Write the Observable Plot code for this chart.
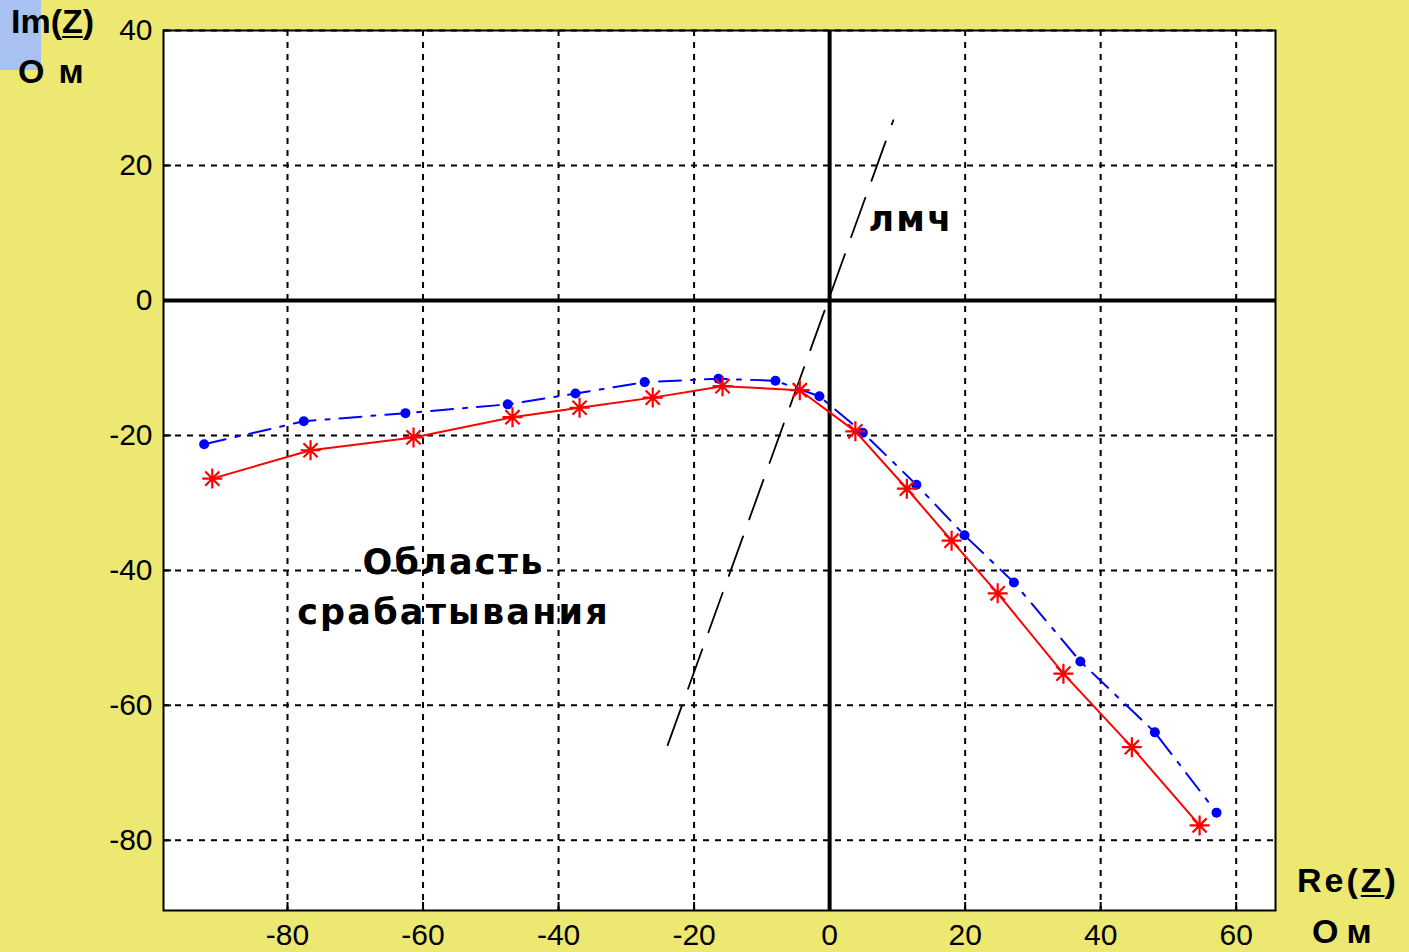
<!DOCTYPE html>
<html><head><meta charset="utf-8">
<script src="https://cdn.jsdelivr.net/npm/d3@7"></script>
<script src="https://cdn.jsdelivr.net/npm/@observablehq/plot@0.6"></script>
<style>
html,body{margin:0;padding:0;background:#ece872;width:1409px;height:952px;overflow:hidden;}
#wrap{position:relative;width:1409px;height:952px;}
#wrap svg{position:absolute;left:0;top:0;}
.lbl{position:absolute;font-family:"Liberation Sans",Arial,sans-serif;font-weight:bold;font-size:34px;line-height:1;color:#000;white-space:nowrap;}
.lbl u{text-decoration-thickness:2px;text-underline-offset:3px;}
#bluebox{position:absolute;left:0;top:0;width:41px;height:70px;background:#a9c1f1;}
</style></head><body>
<div id="wrap"><div id="bluebox"></div></div>
<script>
// Tick values
const xTicks = [-80, -60, -40, -20, 0, 20, 40, 60];
const yTicks = [-80, -60, -40, -20, 0, 20, 40];

// Red series (asterisks, solid)
const redRe = [-91.1, -76.6, -61.4, -46.8, -36.9, -26.1, -15.8, -4.4, 3.8, 11.4, 18.0, 24.8, 34.5, 44.6, 54.6];
const redIm = [-26.4, -22.2, -20.3, -17.3, -15.9, -14.4, -12.7, -13.3, -19.4, -27.9, -35.6, -43.4, -55.3, -66.2, -77.8];

// Blue series (dots, dash-dot)
const blueRe = [-92.3, -77.6, -62.6, -47.5, -37.5, -27.3, -16.4, -8.0, -1.5, 4.9, 12.8, 19.9, 27.2, 37.0, 48.0, 57.1];
const blueIm = [-21.3, -17.9, -16.7, -15.4, -13.8, -12.1, -11.6, -11.9, -14.2, -19.6, -27.3, -34.8, -41.8, -53.5, -64.0, -75.9];

// ЛМЧ line (dashed)
const lmchRe = [-23.9, 9.4];
const lmchIm = [-65.9, 26.7];

// Annotations
const noteText = ["лмч", "Область\nсрабатывания"];
const noteRe = [12.0, -55.5];
const noteIm = [12.6, -41.8];

const red = redRe.map((x, i) => ({x, y: redIm[i]}));
const blue = blueRe.map((x, i) => ({x, y: blueIm[i]}));
const lmch = lmchRe.map((x, i) => ({x, y: lmchIm[i]}));
const notes = noteText.map((t, i) => ({t, x: noteRe[i], y: noteIm[i]}));

const asterisk = {
  draw(ctx, size) {
    const r = Math.sqrt(size / Math.PI);
    const d = r * Math.SQRT1_2;
    ctx.moveTo(0, -r); ctx.lineTo(0, r);
    ctx.moveTo(-r, 0); ctx.lineTo(r, 0);
    ctx.moveTo(-d, -d); ctx.lineTo(d, d);
    ctx.moveTo(-d, d); ctx.lineTo(d, -d);
  }
};

const grid = {stroke: "black", strokeOpacity: 1, strokeWidth: 2, strokeDasharray: "6,6"};

const chart = Plot.plot({
  width: 1409, height: 952,
  marginLeft: 163, marginRight: 134, marginTop: 30, marginBottom: 42,
  x: {domain: [-98.3, 65.8]},
  y: {domain: [-90.4, 40]},
  style: {background: "transparent", fontFamily: "'Liberation Sans', Arial, sans-serif", fontSize: "30px", color: "black", overflow: "visible"},
  marks: [
    Plot.frame({fill: "white", stroke: null}),
    Plot.gridX(xTicks, grid),
    Plot.gridY(yTicks, grid),
    Plot.ruleX([0], {stroke: "black", strokeWidth: 4}),
    Plot.ruleY([0], {stroke: "black", strokeWidth: 4}),
    Plot.axisX(xTicks, {tickSize: 0, tickPadding: 13, tickFormat: d => String(d), label: null}),
    Plot.axisY(yTicks, {tickSize: 0, tickPadding: 11, tickFormat: d => String(d), label: null}),
    Plot.axisX(xTicks, {tickSize: -8, tickFormat: () => "", label: null, strokeWidth: 2}),
    Plot.axisY(yTicks, {tickSize: -8, tickFormat: () => "", label: null, strokeWidth: 2}),
    Plot.line(lmch, {x: "x", y: "y", stroke: "black", strokeWidth: 1.8, strokeDasharray: "42,18"}),
    Plot.line(blue, {x: "x", y: "y", stroke: "#0000ff", strokeWidth: 2, strokeDasharray: "22,10,4,10"}),
    Plot.dot(blue, {x: "x", y: "y", r: 5, fill: "#0000ff", stroke: null}),
    Plot.line(red, {x: "x", y: "y", stroke: "#ff0000", strokeWidth: 2}),
    Plot.dot(red, {x: "x", y: "y", r: 10, symbol: asterisk, stroke: "#ff0000", strokeWidth: 2.2, fill: "none"}),
    Plot.text(notes, {x: "x", y: "y", text: "t", fontFamily: "'DejaVu Sans', sans-serif", fontWeight: "bold", fontSize: 35, lineHeight: 1.43, fill: "black"}),
    Plot.frame({stroke: "black", strokeWidth: 2})
  ]
});

chart.querySelectorAll("g[aria-label='text'] text").forEach(t => t.setAttribute("letter-spacing", "2.2"));

const wrap = document.getElementById("wrap");
wrap.appendChild(chart);

function addLabel(html, left, top, spacing) {
  const d = document.createElement("div");
  d.className = "lbl";
  d.innerHTML = html;
  d.style.left = left + "px";
  d.style.top = top + "px";
  d.style.letterSpacing = spacing + "px";
  wrap.appendChild(d);
}
addLabel("Im(<u>Z</u>)", 11, 4, 0);
addLabel("Ом", 18, 54, 14);
addLabel("Re(<u>Z</u>)", 1297, 863, 3);
addLabel("Ом", 1312, 914, 8);
</script>
</body></html>
